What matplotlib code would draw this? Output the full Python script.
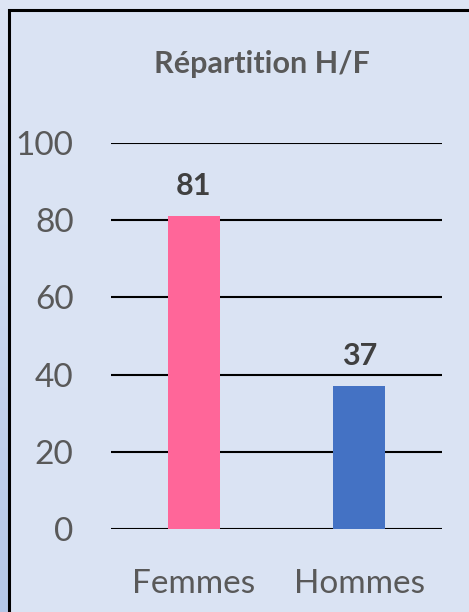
import matplotlib.pyplot as plt
from matplotlib.patches import Rectangle
from matplotlib.colors import LinearSegmentedColormap
import numpy as np

# données
categories = ["Femmes", "Hommes"]
valeurs = [81, 37]
couleurs = ["#FF6699", "#4472C4"]
yticks = [0, 20, 40, 60, 80, 100]

W, H = 469, 612
fig = plt.figure(figsize=(W / 100, H / 100), dpi=100)
fig.patch.set_facecolor("#DAE3F3")

# bande extérieure (à gauche / en haut) avec léger dégradé
grad = np.linspace(0, 1, 256).reshape(-1, 1)
bg = fig.add_axes([0, 0, 9 / W, 1])
bg.imshow(grad, aspect="auto", origin="lower",
          cmap=LinearSegmentedColormap.from_list("g", ["#B4C7E7", "#DDE5F4"]))
bg.axis("off")
fig.patches.append(Rectangle((0, 1 - 9 / H), 1, 9 / H, transform=fig.transFigure,
                             facecolor="#DDE5F4", edgecolor="none", zorder=0))
# cadre noir
fig.patches.append(Rectangle((9 / W, -0.1), 1.2, 1.1 - 9.5 / H, transform=fig.transFigure,
                             facecolor="none", edgecolor="black", linewidth=2.2, zorder=5))

# zone du graphique : x 111..442 px, y(0)=529, y(100)=143
left, right = 111 / W, 442 / W
bottom, top = 1 - 529 / H, 1 - 143 / H
ax = fig.add_axes([left, bottom, right - left, top - bottom])
ax.set_facecolor("none")

x = np.arange(len(categories))
ax.bar(x, valeurs, width=0.314, color=couleurs, zorder=3)
ax.set_xlim(-0.5, 1.5)
ax.set_ylim(0, 100)
ax.set_yticks(yticks)
ax.set_xticks(x)
ax.set_xticklabels(categories)

ax.grid(axis="y", color="black", linewidth=1.5, zorder=0)
ax.set_axisbelow(True)
for s in ax.spines.values():
    s.set_visible(False)
ax.tick_params(axis="y", length=0, labelsize=24, labelcolor="#595959", pad=27)
ax.tick_params(axis="x", length=0, labelsize=24, labelcolor="#595959", pad=29)
for lbl in ax.get_yticklabels() + ax.get_xticklabels():
    lbl.set_fontfamily("Lato")

for xi, v in zip(x, valeurs):
    ax.text(xi, v + 5.6, str(v), ha="center", va="baseline", fontsize=22,
            fontweight="bold", color="#404040", family="Lato")

fig.text(262 / W, 1 - 73 / H, "Répartition H/F", ha="center", va="baseline",
         fontsize=22, fontweight="bold", color="#595959", family="Lato")

fig.savefig("out.png", dpi=100, facecolor=fig.get_facecolor())
